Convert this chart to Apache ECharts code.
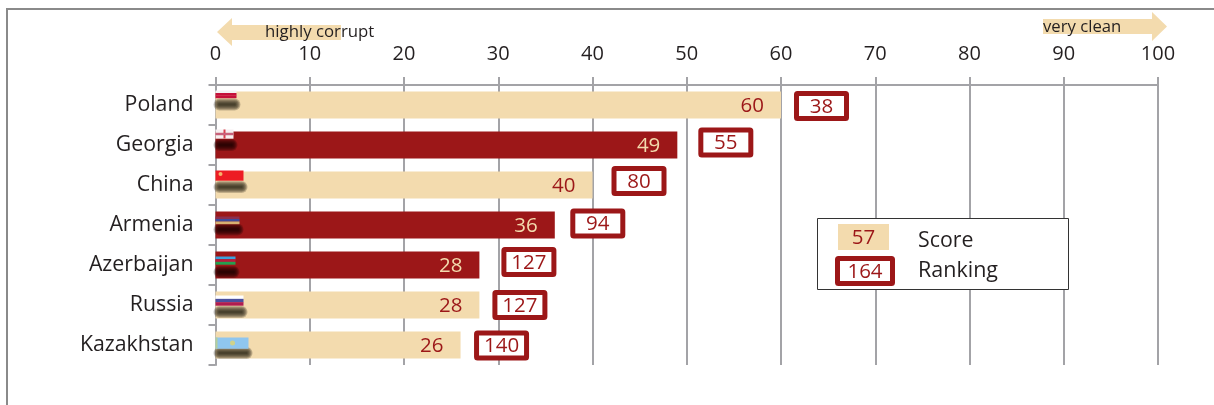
<!DOCTYPE html>
<html><head><meta charset="utf-8">
<style>html,body{margin:0;padding:0;background:#fff}#c{width:1214px;height:405px}</style>
<script src="https://cdn.jsdelivr.net/npm/echarts@6/dist/echarts.min.js"></script>
</head><body><div id="c"></div>
<script>
const categories = ['Poland','Georgia','China','Armenia','Azerbaijan','Russia','Kazakhstan'];
const scores = [60,49,40,36,28,28,26];
const rankings = [38,55,80,94,127,127,140];
const darkBars = ['Georgia','Armenia','Azerbaijan'];
const axisTicks = [0,10,20,30,40,50,60,70,80,90,100];

const RED = '#9c1718', CREAM = '#f3dbae', INK = '#231f20', GRID = '#a3a3a7';
const FONT = '"Open Sans","Noto Sans",sans-serif';

// hand placement of the ranking boxes relative to the bar end / bar centre (px)
const boxShift = [[40.5,1],[48.5,-2.5],[46.5,-4],[43,-1.5],[49.5,-3],[40.5,0],[41,0.5]];
// decorative flag thumbnails: [width, top offset from bar centre, height, stripe colours]
const flags = [
  [21,-14.5,7.5,['#f4f1f2','#c5103a','#c5103a']],
  [18,-15.5,9,['#f7eef0','#f7eef0','#f7eef0']],
  [28,-14.5,10,['#ed1c24']],
  [24,-8.5,7.5,['#8c2f4e','#3f4a9a','#d8b070']],
  [20,-8.5,8,['#3ba3dd','#b91c3c','#25a04f']],
  [28,-9.5,10,['#ffffff','#4a4f9e','#b01c50']],
  [33,-7.5,11,['#8fc6ef']]
];
const shadowDrop = [-0.5,0,2,4.5,7,7,8];

const chart = echarts.init(document.getElementById('c'), null, {renderer:'canvas'});

function flagItem(params, api){
  const i = api.value(1);
  const p = api.coord([0,i]);
  const f = flags[i];
  const x0 = p[0], cy = p[1], kids = [];
  const tint = darkBars.includes(categories[i]) ? 'rgba(20,0,0,0.24)' : 'rgba(35,28,18,0.24)';
  for(let k=5;k>=0;k--){
    kids.push({type:'rect',shape:{x:x0+3-k,y:cy+shadowDrop[i]-1-k,width:f[0]-4+2*k,height:2+2*k,r:1+k},
      style:{fill:tint}});
  }
  const n = f[3].length;
  f[3].forEach((c,k)=>kids.push({type:'rect',
    shape:{x:x0,y:cy+f[1]+k*f[2]/n,width:f[0],height:f[2]/n+0.2},style:{fill:c}}));
  if(categories[i]==='Georgia'){
    kids.push({type:'rect',shape:{x:x0+f[0]/2-1,y:cy+f[1],width:2,height:f[2]},style:{fill:'#d8404f'}});
    kids.push({type:'rect',shape:{x:x0,y:cy+f[1]+f[2]/2-1,width:f[0],height:2},style:{fill:'#c8607a'}});
  }
  if(categories[i]==='China'){
    kids.push({type:'circle',shape:{cx:x0+5,cy:cy+f[1]+3.5,r:2},style:{fill:'#f6b26a'}});
  }
  if(categories[i]==='Kazakhstan'){
    kids.push({type:'circle',shape:{cx:x0+17,cy:cy+f[1]+5.5,r:2.5},style:{fill:'#cfd28a'}});
    kids.push({type:'rect',shape:{x:x0,y:cy+f[1],width:2,height:f[2]},style:{fill:'#b3cf9c'}});
  }
  return {type:'group',children:kids};
}

function rankBox(x,y,label){
  return {type:'group',x:x,y:y,children:[
    {type:'rect',shape:{x:-25,y:-12.5,width:50,height:25,r:1},
     style:{fill:'#fff',stroke:RED,lineWidth:5,lineJoin:'round'}},
    {type:'text',style:{text:String(label),x:0,y:1,align:'center',verticalAlign:'middle',
      fill:RED,font:'20.5px '+FONT}}
  ]};
}
function rankItem(params, api){
  const i = api.value(1);
  const p = api.coord([api.value(0),i]);
  const s = boxShift[i];
  return rankBox(p[0]+s[0],p[1]+s[1],api.value(2));
}

const option = {
  animation:false,
  backgroundColor:'#fff',
  textStyle:{fontFamily:FONT},
  grid:{left:215.5,top:85,width:942.5,height:280,containLabel:false},
  xAxis:{type:'value',position:'top',min:0,max:100,interval:10,
    axisLine:{show:true,lineStyle:{color:GRID,width:2}},
    axisTick:{show:true,length:8,lineStyle:{color:GRID,width:2}},
    splitLine:{show:true,lineStyle:{color:GRID,width:2}},
    axisLabel:{margin:21,fontSize:20,color:INK,fontFamily:FONT,
      formatter:v=>axisTicks.includes(v)?String(v):''}},
  yAxis:{type:'category',inverse:true,data:categories,
    axisLine:{show:true,onZero:false,lineStyle:{color:GRID,width:2}},
    axisTick:{show:true,length:7,lineStyle:{color:GRID,width:2}},
    axisLabel:{margin:22,fontSize:21.3,color:INK,fontFamily:FONT,padding:[2,0,0,0]}},
  series:[
    {type:'bar',barWidth:27,silent:true,
     data:scores.map((v,i)=>{
       const dark = darkBars.includes(categories[i]);
       return {value:v,itemStyle:{color:dark?RED:CREAM},
         label:{color:dark?CREAM:RED}};
     }),
     label:{show:true,position:'insideRight',distance:17,offset:[0,1.5],fontSize:20.5,fontFamily:FONT}},
    {type:'custom',silent:true,clip:false,z:4,renderItem:flagItem,
     encode:{x:0,y:1},data:categories.map((c,i)=>[0,i])},
    {type:'custom',silent:true,clip:false,z:5,renderItem:rankItem,
     encode:{x:0,y:1},data:scores.map((v,i)=>[v,i,rankings[i]])}
  ],
  graphic:[
    {type:'polyline',z:1,silent:true,shape:{points:[[7,405],[7,9],[1214,9]]},
     style:{stroke:'#8a8a8a',lineWidth:2,fill:null}},
    {type:'polygon',z:1,silent:true,shape:{points:[[217,32],[232,18],[232,25],[341,25],[341,40],[232,40],[232,46]]},style:{fill:CREAM}},
    {type:'text',z:2,silent:true,style:{text:'highly corrupt',x:265,y:32.5,verticalAlign:'middle',fill:INK,font:'16.8px '+FONT}},
    {type:'polygon',z:1,silent:true,shape:{points:[[1043,19],[1152,19],[1152,12],[1167,26.5],[1152,41],[1152,34],[1043,34]]},style:{fill:CREAM}},
    {type:'text',z:2,silent:true,style:{text:'very clean',x:1043,y:27.5,verticalAlign:'middle',fill:INK,font:'16.7px '+FONT}},
    {type:'rect',z:20,silent:true,shape:{x:817.5,y:218.5,width:251,height:71},style:{fill:'#fff',stroke:'#333',lineWidth:1}},
    {type:'rect',z:21,silent:true,shape:{x:838,y:224,width:51,height:26},style:{fill:CREAM}},
    {type:'text',z:22,silent:true,style:{text:'57',x:863.5,y:238.5,align:'center',verticalAlign:'middle',fill:RED,font:'20.5px '+FONT}},
    {type:'rect',z:21,silent:true,shape:{x:837.5,y:258.5,width:55,height:25,r:1},style:{fill:'#fff',stroke:RED,lineWidth:5}},
    {type:'text',z:22,silent:true,style:{text:'164',x:865,y:272,align:'center',verticalAlign:'middle',fill:RED,font:'20.5px '+FONT}},
    {type:'text',z:22,silent:true,style:{text:'Score',x:918,y:241,verticalAlign:'middle',fill:INK,font:'21.3px '+FONT}},
    {type:'text',z:22,silent:true,style:{text:'Ranking',x:918,y:271,verticalAlign:'middle',fill:INK,font:'21.5px '+FONT}}
  ]
};
chart.setOption(option);
</script></body></html>
